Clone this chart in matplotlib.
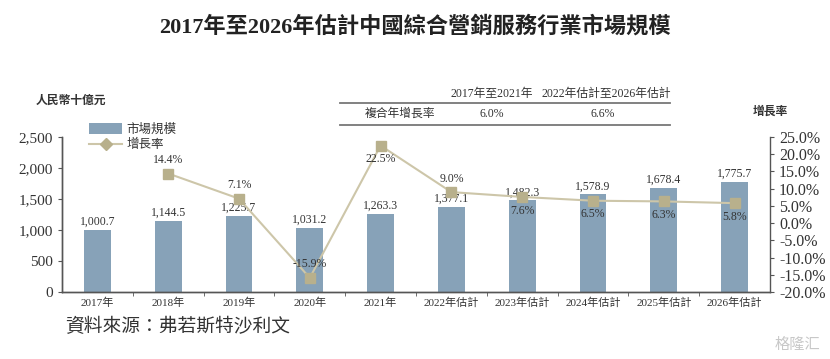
import matplotlib
matplotlib.use("Agg")
import matplotlib.pyplot as plt
from matplotlib.lines import Line2D
from matplotlib.patches import Patch
from matplotlib.ticker import FuncFormatter

plt.rcParams['font.family'] = ['Liberation Serif', 'Noto Sans CJK TC', 'DejaVu Sans']

categories = ["2017年", "2018年", "2019年", "2020年", "2021年",
              "2022年估計", "2023年估計", "2024年估計", "2025年估計", "2026年估計"]
market_size = [1000.7, 1144.5, 1225.7, 1031.2, 1263.3, 1377.1, 1482.3, 1578.9, 1678.4, 1775.7]
growth = [None, 14.4, 7.1, -15.9, 22.5, 9.0, 7.6, 6.5, 6.3, 5.8]
growth_label_above = [None, True, True, True, False, True, False, False, False, False]
cagr_periods = ["2017年至2021年", "2022年估計至2026年估計"]
cagr_values = ["6.0%", "6.6%"]

bar_color = "#87a2b8"
line_color = "#cdc6a9"
marker_color = "#b8b08c"
text_color = "#333333"

fig = plt.figure(figsize=(8.3, 3.59), dpi=100)
ax = fig.add_axes([62/830, 1-292/359, (770-62)/830, (292-137)/359])
ax2 = ax.twinx()

x = list(range(len(categories)))
ax.bar(x, market_size, width=0.38, color=bar_color, zorder=2)
for xi, v in zip(x, market_size):
    ax.text(xi, v + 30, f"{v:,.1f}", ha="center", va="bottom", fontsize=8.5, color=text_color)

gx = [xi for xi, g in zip(x, growth) if g is not None]
gy = [g for g in growth if g is not None]
ax2.plot(gx, gy, color=line_color, lw=1.5, zorder=3)
ax2.plot(gx, gy, ls="none", marker="s", markersize=7.5, color=marker_color, zorder=4)
for xi, g, above in zip(x, growth, growth_label_above):
    if g is None:
        continue
    if above:
        ax2.text(xi, g + 2.2, f"{g:.1f}%", ha="center", va="bottom", fontsize=8.5, color=text_color, zorder=5)
    else:
        ax2.text(xi, g - 2.2, f"{g:.1f}%", ha="center", va="top", fontsize=8.5, color=text_color, zorder=5)

ax.set_xlim(-0.5, len(categories) - 0.5)
ax.set_ylim(0, 2500)
ax.set_yticks([0, 500, 1000, 1500, 2000, 2500])
ax.yaxis.set_major_formatter(FuncFormatter(lambda v, p: f"{v:,.0f}"))
ax2.set_ylim(-20, 25)
ax2.set_yticks([-20, -15, -10, -5, 0, 5, 10, 15, 20, 25])
ax2.yaxis.set_major_formatter(FuncFormatter(lambda v, p: f"{v:.1f}%"))

ax.set_xticks(x)
ax.set_xticklabels(categories, fontsize=8, color=text_color)
ax.set_xticks([i + 0.5 for i in range(len(categories) - 1)], minor=True)
ax.tick_params(axis="x", which="major", length=0, pad=4)
ax.tick_params(axis="x", which="minor", length=3, color="#555555")
ax.tick_params(axis="y", labelsize=11, length=3, color="#555555", labelcolor=text_color)
ax2.tick_params(axis="y", labelsize=11.5, length=3, color="#555555", labelcolor=text_color)

for a in (ax, ax2):
    a.spines["top"].set_visible(False)
    for s in ("left", "right", "bottom"):
        a.spines[s].set_color("#555555")
        a.spines[s].set_linewidth(1.0)
ax.spines["right"].set_visible(False)

handles = [Patch(facecolor=bar_color, edgecolor="none"),
           Line2D([0], [0], color=line_color, lw=1.5, marker="D", markersize=6,
                  markerfacecolor=marker_color, markeredgecolor=marker_color)]
fig.legend(handles, ["市場規模", "增長率"], loc="upper left",
           bbox_to_anchor=(83/830, 1-117/359), frameon=False, fontsize=9,
           handlelength=2.6, handleheight=0.9, labelspacing=0.25, handletextpad=0.4,
           borderpad=0, labelcolor=text_color)

fig.text(0.5, 1-27/359, "2017年至2026年估計中國綜合營銷服務行業市場規模", ha="center", va="center",
         fontsize=16, fontweight="bold", color="#222222")
fig.text(36/830, 1-101/359, "人民幣十億元", ha="left", va="center", fontsize=8.5, fontweight="bold", color=text_color)
fig.text(770/830, 1-112/359, "增長率", ha="center", va="center", fontsize=8.5, fontweight="bold", color=text_color)

# CAGR table
fig.text(492/830, 1-94/359, cagr_periods[0], ha="center", va="center", fontsize=8.5, color=text_color)
fig.text(606/830, 1-94/359, cagr_periods[1], ha="center", va="center", fontsize=8.5, color=text_color)
fig.add_artist(Line2D([340/830, 670/830], [1-103/359, 1-103/359], color="#777777", lw=1.3))
fig.text(400/830, 1-114/359, "複合年增長率", ha="center", va="center", fontsize=8.5, color=text_color)
fig.text(492/830, 1-114/359, cagr_values[0], ha="center", va="center", fontsize=8.5, color=text_color)
fig.text(603/830, 1-114/359, cagr_values[1], ha="center", va="center", fontsize=8.5, color=text_color)
fig.add_artist(Line2D([340/830, 670/830], [1-125/359, 1-125/359], color="#777777", lw=1.3))

fig.text(65/830, 1-327/359, "資料來源：弗若斯特沙利文", ha="left", va="center", fontsize=13.5,
         style="italic", color=text_color)
fig.text(820/830, 1-345/359, "格隆汇", ha="right", va="center", fontsize=11, color="#c8c8c8")

fig.savefig("out.png", dpi=100)
